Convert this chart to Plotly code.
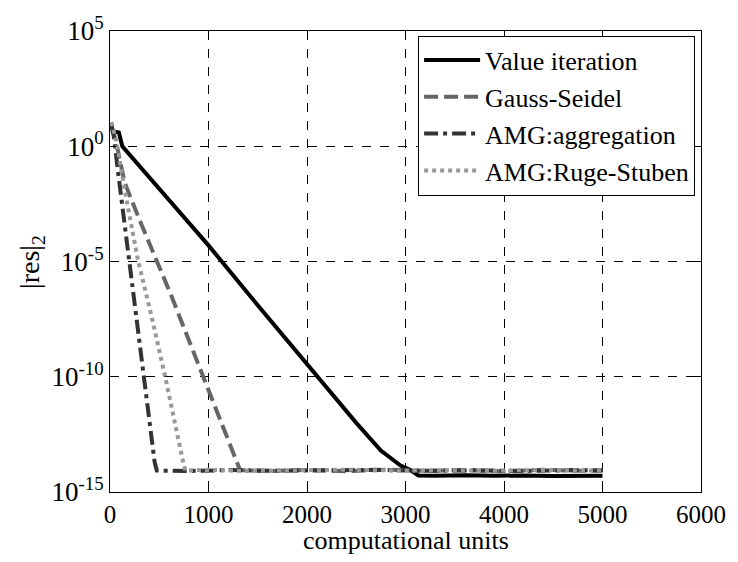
import plotly.graph_objects as go

# Values (x in computational units, y as log10 of |res|_2)
vi_x = [15, 90, 125, 500, 1000, 1500, 2000, 2110, 2500, 2750, 2950, 3050, 3130, 3300, 3600, 3900, 4200, 4500, 4800, 5000]
vi_logy = [0.65, 0.6, 0.0, -1.85, -4.3, -6.9, -9.45, -10.0, -12.0, -13.2, -13.85, -14.05, -14.28, -14.3, -14.27, -14.3, -14.28, -14.31, -14.28, -14.3]

gs_x = [15, 60, 151, 320, 624, 957, 1289, 1320, 1600, 2000, 2400, 2800, 3200, 3600, 4000, 4400, 4800, 5000]
gs_logy = [0.9, 0.2, -1.6, -3.4, -6.5, -10.1, -13.6, -14.05, -14.09, -14.04, -14.1, -14.03, -14.08, -14.05, -14.1, -14.04, -14.08, -14.06]

agg_x = [15, 40, 81, 151, 252, 336, 453, 475, 800, 1200, 1700, 2200, 2700, 3200, 3700, 4200, 4700, 5000]
agg_logy = [0.9, 0.4, -1.1, -3.5, -6.9, -10.0, -13.7, -14.07, -14.09, -14.05, -14.08, -14.06, -14.04, -14.08, -14.06, -14.09, -14.05, -14.07]

rs_x = [15, 60, 171, 282, 423, 560, 735, 765, 1000, 1400, 1900, 2400, 2900, 3400, 3900, 4400, 4900, 5000]
rs_logy = [1.05, 0.3, -2.4, -4.9, -7.4, -10.0, -13.55, -14.07, -14.04, -14.09, -14.06, -14.03, -14.07, -14.05, -14.08, -14.04, -14.07, -14.06]

series = [
    ("Value iteration", vi_x, vi_logy, "#000000", "solid"),
    ("Gauss-Seidel", gs_x, gs_logy, "#666666", "14px,6px"),
    ("AMG:aggregation", agg_x, agg_logy, "#333333", "14px,5px,4px,5px"),
    ("AMG:Ruge-Stuben", rs_x, rs_logy, "#999999", "4px,4px"),
]

y_tickvals = [1e5, 1e0, 1e-5, 1e-10, 1e-15]
y_ticktext = ["10<sup>5</sup>", "10<sup>0</sup>", "10<sup>-5</sup>", "10<sup>-10</sup>", "10<sup>-15</sup>"]
x_tickvals = [0, 1000, 2000, 3000, 4000, 5000, 6000]

fig = go.Figure()
for name, xs, ly, color, dash in series:
    fig.add_trace(go.Scatter(
        x=xs, y=[10 ** v for v in ly], mode="lines", name=name,
        line=dict(color=color, width=4, dash=dash),
    ))

font_family = "Liberation Serif, Times New Roman, serif"
fig.update_layout(
    width=738, height=562,
    margin=dict(l=110, r=32, t=24, b=70),
    paper_bgcolor="white", plot_bgcolor="white",
    font=dict(family=font_family, size=27, color="black"),
    showlegend=True,
    legend=dict(
        x=0.99, y=0.99, xanchor="right", yanchor="top",
        bgcolor="white", bordercolor="black", borderwidth=1,
        font=dict(size=26, family=font_family, color="black"),
        tracegroupgap=0, itemwidth=56,
    ),
    annotations=[
        dict(text="computational units", xref="paper", yref="paper",
             x=0.5, y=-0.105, xanchor="center", yanchor="middle",
             showarrow=False, font=dict(size=26, family=font_family, color="black")),
        dict(text="|res|<sub>2</sub>", xref="paper", yref="paper",
             x=-0.133, y=0.5, xanchor="center", yanchor="middle", textangle=-90,
             showarrow=False, font=dict(size=28, family=font_family, color="black")),
    ],
)
fig.update_xaxes(
    range=[0, 6000], tickvals=x_tickvals, ticktext=[str(v) for v in x_tickvals],
    showline=True, linecolor="black", linewidth=1, mirror="ticks",
    ticks="inside", ticklen=6, tickcolor="black",
    showgrid=True, gridcolor="black", griddash="dash", gridwidth=1,
    zeroline=False, tickfont=dict(size=25),
)
fig.update_yaxes(
    type="log", range=[-15, 5], tickvals=y_tickvals, ticktext=y_ticktext,
    showline=True, linecolor="black", linewidth=1, mirror="ticks",
    ticks="inside", ticklen=6, tickcolor="black",
    showgrid=True, gridcolor="black", griddash="dash", gridwidth=1,
    zeroline=False, tickfont=dict(size=27),
)

fig.write_html("out.html")
